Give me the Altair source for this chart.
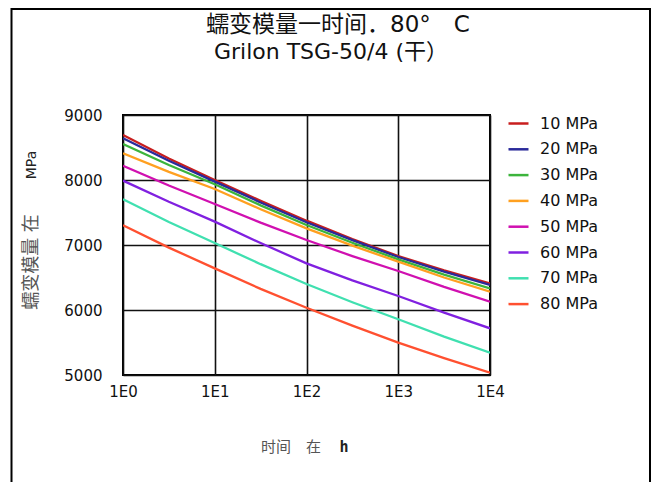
import altair as alt
import pandas as pd

# ---- data ----
times = [1, 3.16, 10, 31.6, 100, 316, 1000, 3160, 10000]
series_labels = ["10  MPa", "20  MPa", "30  MPa", "40  MPa",
                 "50  MPa", "60  MPa", "70  MPa", "80  MPa"]
series_colors = ["#c81e1e", "#2a2a9a", "#3cb43c", "#ffa020",
                 "#d010b0", "#8020e0", "#40e0b0", "#ff5030"]
m10 = [8692, 8330, 8000, 7680, 7374, 7090, 6831, 6610, 6410]
m20 = [8641, 8295, 7975, 7655, 7350, 7075, 6815, 6590, 6385]
m30 = [8554, 8230, 7934, 7610, 7308, 7035, 6779, 6545, 6333]
m40 = [8410, 8125, 7862, 7550, 7256, 6990, 6743, 6500, 6282]
m50 = [8220, 7915, 7631, 7345, 7077, 6830, 6600, 6355, 6128]
m60 = [7990, 7665, 7359, 7030, 6718, 6455, 6215, 5960, 5718]
m70 = [7703, 7355, 7030, 6705, 6400, 6120, 5857, 5590, 5343]
m80 = [7303, 6960, 6641, 6325, 6035, 5760, 5497, 5260, 5035]
all_series = [m10, m20, m30, m40, m50, m60, m70, m80]

x_ticks = [1, 10, 100, 1000, 10000]
y_ticks = [5000, 6000, 7000, 8000, 9000]

title_1 = "蠕变模量一时间．80°　C"
title_2 = "Grilon TSG-50/4 (干）"
y_title_cjk = "蠕变模量  在"
y_title_unit = "MPa"
x_title_cjk = "时间　在"
x_title_unit = "h"

rows = []
for lab, vals in zip(series_labels, all_series):
    for t, v in zip(times, vals):
        rows.append({"series": lab, "time": t, "modulus": v})
df = pd.DataFrame(rows)

FONT = "DejaVu Sans, Noto Sans CJK SC"
W, H = 367, 260

lines = alt.Chart(df).mark_line(strokeWidth=2.3, clip=True).encode(
    x=alt.X("time:Q",
            scale=alt.Scale(type="log", domain=[1, 10000], nice=False),
            axis=alt.Axis(values=x_ticks,
                          labelExpr="'1E' + round(log(datum.value)/LN10)",
                          title=None, labelPadding=9, labelFlush=False)),
    y=alt.Y("modulus:Q",
            scale=alt.Scale(domain=[5000, 9000], nice=False, zero=False),
            axis=alt.Axis(values=y_ticks, format="d", title=None,
                          labelPadding=21, labelFlush=False)),
    color=alt.Color("series:N",
                    scale=alt.Scale(domain=series_labels, range=series_colors),
                    legend=alt.Legend(title=None, orient="none",
                                      legendX=384, legendY=-3,
                                      symbolType="stroke", symbolSize=400,
                                      symbolStrokeWidth=2.5,
                                      labelFontSize=16, labelFont=FONT,
                                      labelColor="#111", labelOffset=10,
                                      rowPadding=5.8, padding=0)),
    detail="series:N",
)

def text_layer(txt, x, y, size, color="#111", angle=0, font=FONT, weight="normal"):
    return alt.Chart(pd.DataFrame({"t": [txt]})).mark_text(
        font=font, fontSize=size, color=color, angle=angle, fontWeight=weight,
        align="center", baseline="middle",
    ).encode(text="t:N", x=alt.value(x), y=alt.value(y))

frame = alt.Chart(pd.DataFrame({"a": [0]})).mark_rect(
    fill=None, stroke="#000", strokeWidth=2
).encode(x=alt.value(-111.5), x2=alt.value(527),
         y=alt.value(-106), y2=alt.value(400))

chart = alt.layer(
    frame,
    lines,
    text_layer(title_1, 215, -90, 23),
    text_layer(title_2, 208, -63, 22),
    text_layer(y_title_cjk, -91, 147, 18, color="#555", angle=270),
    text_layer(y_title_unit, -91, 50, 14, color="#222", angle=270),
    text_layer(x_title_cjk, 168, 332, 15, color="#555"),
    text_layer(x_title_unit, 221, 332, 15, color="#222",
               font="DejaVu Sans Mono", weight="bold"),
).properties(
    width=W, height=H,
    autosize=alt.AutoSizeParams(type="none"),
    padding={"left": 115, "top": 107, "right": 161, "bottom": 107},
    background="white",
).configure_view(
    stroke="#000", strokeWidth=2
).configure_axis(
    domain=False, ticks=False, grid=True,
    gridColor="#111", gridWidth=1.6, gridOpacity=1,
    labelFont=FONT, labelFontSize=15, labelColor="#111",
)

chart.save("out.html", embed_options={"renderer": "svg", "actions": False})
